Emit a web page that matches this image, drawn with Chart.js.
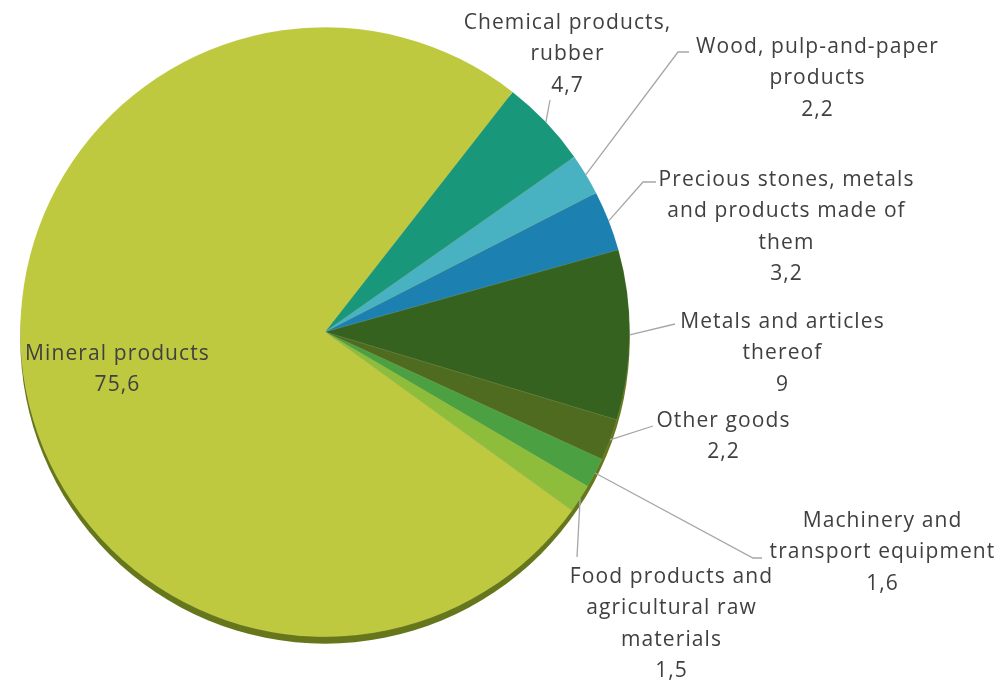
<!DOCTYPE html>
<html>
<head>
<meta charset="utf-8">
<script src="https://cdn.jsdelivr.net/npm/chart.js@4.4.0/dist/chart.umd.min.js"></script>
<style>
  html, body { margin: 0; padding: 0; background: #fff; }
  #wrap { width: 997px; height: 683px; }
</style>
</head>
<body>
<div id="wrap"><canvas id="pie-chart"></canvas></div>
<script>
// data (order clockwise from the top)
var categories = [
  ["Chemical products,", "rubber"],
  ["Wood, pulp-and-paper", "products"],
  ["Precious stones, metals", "and products made of", "them"],
  ["Metals and articles", "thereof"],
  ["Other goods"],
  ["Machinery and", "transport equipment"],
  ["Food products and", "agricultural raw", "materials"],
  ["Mineral products"]
];
var values = [4.7, 2.2, 3.2, 9, 2.2, 1.6, 1.5, 75.6];
var valueLabels = ["4,7", "2,2", "3,2", "9", "2,2", "1,6", "1,5", "75,6"];
var sliceColors = ["#19977b", "#48b2c2", "#1c80b0", "#36621f", "#4e6b1f", "#4ba141", "#8dbd3b", "#bec940"];

// label layout: text centre + first line y, leader line bends (null = label inside slice)
var labelLayout = [
  { x: 567, y: 23, leader: [[550, 100]] },
  { x: 817, y: 47, leader: [[678, 52], [689, 52]] },
  { x: 786, y: 180, leader: [[643, 182], [656, 182]] },
  { x: 782, y: 322, leader: [[675, 324]] },
  { x: 723, y: 421, leader: [[653, 426]] },
  { x: 882, y: 521, leader: [[753, 558], [762, 558]] },
  { x: 671, y: 577, leader: [[577, 557]] },
  { x: 117, y: 354, leader: null }
];
var lineHeight = 31.5;

var pieShadow = {
  id: "pieShadow",
  beforeDatasetsDraw: function (chart) {
    var arc = chart.getDatasetMeta(0).data[0];
    if (!arc) return;
    var ctx = chart.ctx;
    ctx.save();
    ctx.fillStyle = "#66771b";
    ctx.beginPath();
    ctx.arc(arc.x, arc.y + 7, arc.outerRadius, 0, Math.PI * 2);
    ctx.fill();
    ctx.restore();
  }
};

var pieLabels = {
  id: "pieLabels",
  afterDatasetsDraw: function (chart) {
    var ctx = chart.ctx;
    var meta = chart.getDatasetMeta(0);
    ctx.save();
    meta.data.forEach(function (arc, i) {
      var lay = labelLayout[i];
      if (lay.leader) {
        var mid = (arc.startAngle + arc.endAngle) / 2;
        ctx.strokeStyle = "#a6a6a6";
        ctx.lineWidth = 1.3;
        ctx.beginPath();
        ctx.moveTo(arc.x + Math.cos(mid) * arc.outerRadius, arc.y + Math.sin(mid) * arc.outerRadius);
        lay.leader.forEach(function (p) { ctx.lineTo(p[0], p[1]); });
        ctx.stroke();
      }
      var lines = categories[i].concat([valueLabels[i]]);
      ctx.fillStyle = "#404040";
      ctx.font = "21px 'Open Sans'";
      ctx.letterSpacing = "1.1px";
      ctx.textAlign = "center";
      ctx.textBaseline = "middle";
      lines.forEach(function (t, k) {
        ctx.fillText(t, lay.x + 0.5, lay.y + k * lineHeight);
      });
    });
    ctx.restore();
  }
};

document.addEventListener("DOMContentLoaded", function () {
  var ctx = document.getElementById("pie-chart").getContext("2d");
  new Chart(ctx, {
    type: "pie",
    data: {
      labels: categories.map(function (c) { return c.join(" "); }),
      datasets: [
        {
          data: values,
          backgroundColor: sliceColors,
          borderColor: "rgba(255,255,255,0.15)",
          borderWidth: 0.6
        }
      ]
    },
    options: {
      responsive: true,
      maintainAspectRatio: false,
      animation: false,
      rotation: 38,
      layout: { padding: { left: 20, right: 367, top: 27, bottom: 46 } },
      plugins: {
        legend: { display: false },
        tooltip: { enabled: false }
      }
    },
    plugins: [pieShadow, pieLabels]
  });
});
</script>
</body>
</html>
